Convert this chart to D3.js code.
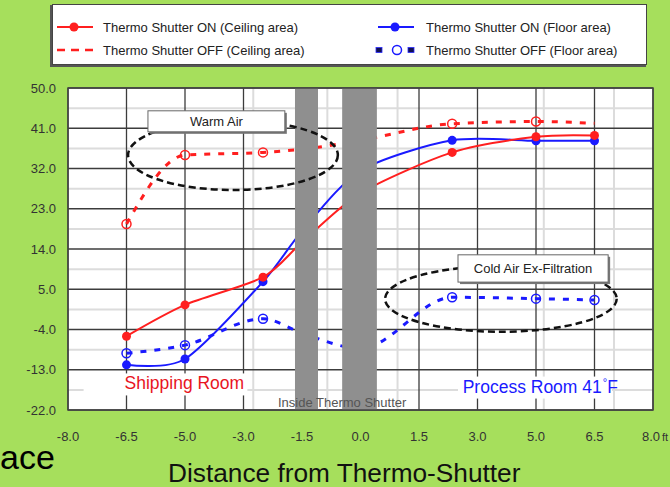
<!DOCTYPE html>
<html><head><meta charset="utf-8">
<script src="https://cdn.jsdelivr.net/npm/d3@7"></script>
<style>
html,body{margin:0;padding:0;background:#a6df5c;overflow:hidden;}
svg{display:block;font-family:"Liberation Sans",Arial,sans-serif;}
</style></head><body>
<svg id="chart" width="670" height="487"></svg>
<script>
// ---------- data ----------
const xTicks = [-8, -6.5, -5, -3, -1.5, 0, 1.5, 3, 5, 6.5, 8];
const yTicks = [-22, -13, -4, 5, 14, 23, 32, 41, 50];
const xMinor = [-2.75, -0.85, 0.95, 5.2, 7.0];
const yMinor = [-17.5, -8.5, 0.5, 9.5, 18.5, 27.5, 36.5, 45.5];
const distances  = [-6.5, -5.0, -2.5, -1.5, 0.0, 2.35, 5.0, 6.5];
const ceilingOn  = [-5.5, 1.5, 7.7, 15.5, 26.5, 35.6, 39.1, 39.4];
const floorOn    = [-11.9, -10.6, 6.7, 18.0, 31.5, 38.3, 38.2, 38.2];
const ceilingOff = [19.6, 35.0, 35.6, 36.3, 38.3, 42.0, 42.5, 42.1];
const floorOff   = [-9.3, -7.5, -1.6, -4.8, -8.2, 3.2, 2.9, 2.6];
const onMarked         = [true, true, true, false, false, true, true, true];
const ceilingOffMarked = [true, true, true, false, false, true, true, false];
const floorOffMarked   = [true, true, true, false, false, true, true, true];
const seriesNames = ["Thermo Shutter ON (Ceiling area)", "Thermo Shutter OFF (Ceiling area)",
                     "Thermo Shutter ON (Floor area)", "Thermo Shutter OFF (Floor area)"];
const shutterBands = [[-1.68, -1.09], [-0.47, 0.42]];

// ---------- layout ----------
const L = 68, R = 653, T = 88, B = 410;
const svg = d3.select("#chart");
const RED = "#ff1f1f", BLUE = "#1a1aff";

const x = d3.scaleLinear()
  .domain(xTicks)
  .range(xTicks.map((d, i) => L + i * (R - L) / (xTicks.length - 1)));
const y = d3.scaleLinear().domain([-22, 50]).range([B, T]);

svg.append("rect").attr("width", 670).attr("height", 487).attr("fill", "#a6df5c");

// legend
const lg = svg.append("g");
lg.append("rect").attr("x", 50).attr("y", 5).attr("width", 596).attr("height", 62).attr("fill", "#555");
lg.append("rect").attr("x", 52.5).attr("y", 4.5).attr("width", 594).attr("height", 60)
  .attr("fill", "#fff").attr("stroke", "#444").attr("stroke-width", 1);
const legendItems = [
  {name: seriesNames[0], col: 0, row: 0, color: RED, type: "on"},
  {name: seriesNames[1], col: 0, row: 1, color: RED, type: "offC"},
  {name: seriesNames[2], col: 1, row: 0, color: BLUE, type: "on"},
  {name: seriesNames[3], col: 1, row: 1, color: BLUE, type: "offF"}
];
legendItems.forEach(it => {
  const sx = it.col === 0 ? 57 : 378, tx = it.col === 0 ? 103 : 426;
  const cy = it.row === 0 ? 27 : 50;
  const g = lg.append("g");
  if (it.type === "on") {
    g.append("line").attr("x1", sx).attr("x2", sx + 36).attr("y1", cy).attr("y2", cy)
      .attr("stroke", it.color).attr("stroke-width", 2);
    g.append("circle").attr("cx", sx + 17).attr("cy", cy).attr("r", 4.5).attr("fill", it.color);
  } else if (it.type === "offC") {
    g.append("line").attr("x1", sx).attr("x2", sx + 36).attr("y1", cy).attr("y2", cy)
      .attr("stroke", it.color).attr("stroke-width", 2.5).attr("stroke-dasharray", "8,6");
  } else {
    [sx - 2, sx + 30].forEach(px => g.append("rect").attr("x", px).attr("y", cy - 2.5)
      .attr("width", 6).attr("height", 5).attr("fill", "#101050").attr("stroke", "#2a2aff").attr("stroke-width", 0.8));
    g.append("circle").attr("cx", sx + 19).attr("cy", cy).attr("r", 4.5)
      .attr("fill", "none").attr("stroke", it.color).attr("stroke-width", 1.5);
  }
  g.append("text").attr("x", tx).attr("y", cy + 4.5).attr("font-size", 13).attr("fill", "#222").text(it.name);
});

// plot area
svg.append("rect").attr("x", L).attr("y", T).attr("width", R - L).attr("height", B - T).attr("fill", "#fff");
const grid = svg.append("g");
grid.selectAll(".ym").data(yMinor).join("line")
  .attr("x1", L).attr("x2", R).attr("y1", d => y(d)).attr("y2", d => y(d))
  .attr("stroke", "#dcdcdc").attr("stroke-width", 2);
grid.selectAll(".xm").data(xMinor).join("line")
  .attr("y1", T).attr("y2", B).attr("x1", d => x(d)).attr("x2", d => x(d))
  .attr("stroke", "#dcdcdc").attr("stroke-width", 2);
grid.selectAll(".yM").data(yTicks).join("line")
  .attr("x1", L).attr("x2", R).attr("y1", d => y(d)).attr("y2", d => y(d))
  .attr("stroke", "#3c3c3c").attr("stroke-width", 1.3);
grid.selectAll(".xM").data(xTicks).join("line")
  .attr("y1", T).attr("y2", B).attr("x1", d => x(d)).attr("x2", d => x(d))
  .attr("stroke", "#3c3c3c").attr("stroke-width", 1.3);

// white backgrounds of the room labels
const shipLbl = {x: -6.5, y: -17.4};
const procLbl = {x: 2.62, y: -18.1};
svg.append("rect").attr("x", x(-7.6)).attr("y", y(shipLbl.y) - 16).attr("width", x(-2.9) - x(-7.6)).attr("height", 22).attr("fill", "#fff");
svg.append("rect").attr("x", x(2.5)).attr("y", y(procLbl.y) - 16).attr("width", x(6.95) - x(2.5)).attr("height", 22).attr("fill", "#fff");

// axis labels
svg.append("g").selectAll("text").data(yTicks).join("text")
  .attr("x", 56).attr("y", d => y(d) + 4.5).attr("text-anchor", "end")
  .attr("font-size", 13).attr("fill", "#333").text(d => d.toFixed(1));
svg.append("g").selectAll("text").data(xTicks).join("text")
  .attr("x", d => x(d) - (d === 8 ? 2 : 0)).attr("y", 441).attr("text-anchor", "middle")
  .attr("font-size", 13).attr("fill", "#333").text(d => d.toFixed(1));
svg.append("text").attr("x", x(8) + 9).attr("y", 441).attr("font-size", 11).attr("fill", "#333").text("ft");

// series
const pts = vals => distances.map((d, i) => ({x: d, y: vals[i], i}));
const smooth = d3.line().x(d => x(d.x)).y(d => y(d.y)).curve(d3.curveCardinal.tension(0.2));
const mono = d3.line().x(d => x(d.x)).y(d => y(d.y)).curve(d3.curveMonotoneX);
const series = [
  {vals: ceilingOff, color: RED, dash: "6,8", w: 3, marks: ceilingOffMarked, open: true, gen: mono},
  {vals: floorOff, color: BLUE, dash: "6,8", w: 3, marks: floorOffMarked, open: true, gen: mono},
  {vals: floorOn, color: BLUE, dash: null, w: 2, marks: onMarked, open: false, gen: smooth},
  {vals: ceilingOn, color: RED, dash: null, w: 2, marks: onMarked, open: false, gen: smooth}
];
series.forEach(s => {
  const p = pts(s.vals);
  svg.append("path").datum(p).attr("d", s.gen).attr("fill", "none")
    .attr("stroke", s.color).attr("stroke-width", s.w)
    .attr("stroke-dasharray", s.dash);
  svg.append("g").selectAll("circle").data(p.filter(d => s.marks[d.i])).join("circle")
    .attr("cx", d => x(d.x)).attr("cy", d => y(d.y)).attr("r", 4.5)
    .attr("fill", s.open ? "none" : s.color)
    .attr("stroke", s.color).attr("stroke-width", s.open ? 1.5 : 0);
});

// shutter bands
svg.append("g").selectAll("rect").data(shutterBands).join("rect")
  .attr("x", d => x(d[0])).attr("width", d => x(d[1]) - x(d[0]))
  .attr("y", T).attr("height", B - T).attr("fill", "#8f8f8f");

// plot border
svg.append("rect").attr("x", L).attr("y", T).attr("width", R - L).attr("height", B - T)
  .attr("fill", "none").attr("stroke", "#444").attr("stroke-width", 1.5);

// annotations
function ellipse(e) {
  svg.append("ellipse").attr("cx", (x(e.x0) + x(e.x1)) / 2).attr("cy", (y(e.y0) + y(e.y1)) / 2)
    .attr("rx", (x(e.x1) - x(e.x0)) / 2).attr("ry", (y(e.y0) - y(e.y1)) / 2)
    .attr("fill", "none").attr("stroke", "#111").attr("stroke-width", 2.5).attr("stroke-dasharray", "7,4");
}
function box(b, label) {
  const bx = x(b.x0), by = y(b.y1), bw = x(b.x1) - x(b.x0), bh = y(b.y0) - y(b.y1);
  svg.append("rect").attr("x", bx + 2).attr("y", by + 2).attr("width", bw).attr("height", bh).attr("fill", "#777");
  svg.append("rect").attr("x", bx).attr("y", by).attr("width", bw).attr("height", bh)
    .attr("fill", "#fff").attr("stroke", "#666").attr("stroke-width", 1);
  svg.append("text").attr("x", bx + bw / 2).attr("y", by + bh / 2 + 4.5).attr("text-anchor", "middle")
    .attr("font-size", 13).attr("fill", "#222").text(label);
}
ellipse({x0: -6.46, x1: -0.58, y0: 27.2, y1: 42.8});
box({x0: -5.95, x1: -1.94, y0: 40.2, y1: 44.9}, "Warm Air");
ellipse({x0: 0.63, x1: 7.07, y0: -4.5, y1: 10.2});
box({x0: 2.5, x1: 6.85, y0: 6.6, y1: 12.7}, "Cold Air Ex-Filtration");

svg.append("text").attr("x", x(shipLbl.x) - 2).attr("y", y(shipLbl.y)).attr("font-size", 17.5)
  .attr("fill", "#e8141e").text("Shipping Room");
const pt = svg.append("text").attr("x", x(procLbl.x)).attr("y", y(procLbl.y)).attr("font-size", 17.5)
  .attr("fill", BLUE);
pt.append("tspan").text("Process Room 41");
pt.append("tspan").attr("font-size", 11).attr("dy", -7).attr("dx", 1).text("°");
pt.append("tspan").attr("dy", 7).text("F");

svg.append("text").attr("x", x(-0.47)).attr("y", y(-21.3)).attr("text-anchor", "middle")
  .attr("font-size", 13).attr("fill", "#555").text("Inside Thermo Shutter");

// slide fragments
svg.append("text").attr("x", 0).attr("y", 469).attr("font-size", 34).attr("fill", "#000").text("ace");
svg.append("text").attr("transform", "translate(168,482) scale(1.05,1)")
  .attr("font-size", 25).attr("fill", "#111").text("Distance from Thermo-Shutter");
</script>
</body></html>
